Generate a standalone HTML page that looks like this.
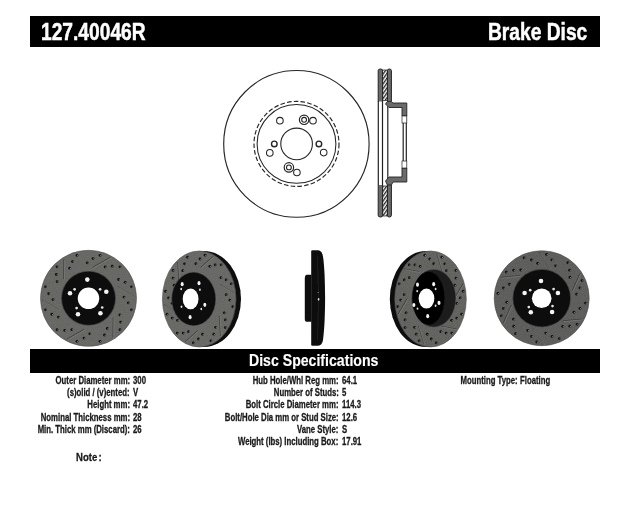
<!DOCTYPE html>
<html><head><meta charset="utf-8"><style>
html,body{margin:0;padding:0;background:#fff;}
body{width:630px;height:516px;position:relative;overflow:hidden;font-family:"Liberation Sans",sans-serif;}
.bar{position:absolute;background:#000;}
.t{position:absolute;white-space:nowrap;font-weight:bold;transform-origin:0 0;line-height:1;}
.w{color:#fff;-webkit-text-stroke:0.5px #fff;}
.k{color:#1a1a1a;font-size:10px;-webkit-text-stroke:0.3px #1a1a1a;}
.r{text-align:right;}
</style></head><body>
<div class="bar" style="left:30px;top:16px;width:570px;height:31px"></div>
<div class="bar" style="left:30px;top:348.5px;width:570px;height:24.5px"></div>
<svg width="630" height="516" viewBox="0 0 630 516" style="position:absolute;left:0;top:0">
<defs>
<pattern id="hatch" patternUnits="userSpaceOnUse" width="4" height="2.8" patternTransform="rotate(-55)">
<rect width="4" height="2.8" fill="#fff"/><rect width="4" height="1.35" fill="#2a2a2a"/></pattern>
<filter id="noise" x="0" y="0" width="100%" height="100%"><feTurbulence type="fractalNoise" baseFrequency="0.9" numOctaves="2" seed="3"/><feColorMatrix type="matrix" values="0 0 0 0 0.3  0 0 0 0 0.3  0 0 0 0 0.3  0 0 0 -1.2 1"/></filter>
<filter id="soft" x="-5%" y="-5%" width="110%" height="110%"><feGaussianBlur stdDeviation="0.35"/></filter>
<pattern id="grain" patternUnits="userSpaceOnUse" width="100" height="100"><rect width="100" height="100" filter="url(#noise)"/></pattern>
</defs>
<ellipse cx="296.4" cy="143.9" rx="72.7" ry="73.4" stroke="#262626" fill="none" stroke-width="1.15"/><circle cx="296.5" cy="143.9" r="42.5" stroke="#262626" fill="none" stroke-width="1.15" stroke-dasharray="4.6 2.2"/><circle cx="296.5" cy="143.9" r="39.4" stroke="#262626" fill="none" stroke-width="1.05"/><circle cx="296.6" cy="143.9" r="15.8" stroke="#262626" fill="none" stroke-width="1.1"/><circle cx="279.9" cy="120.7" r="3.3" stroke="#262626" fill="none" stroke-width="1.05"/><circle cx="313" cy="120.7" r="3.3" stroke="#262626" fill="none" stroke-width="1.05"/><circle cx="269.8" cy="152.9" r="3.3" stroke="#262626" fill="none" stroke-width="1.05"/><circle cx="323.7" cy="152.6" r="3.3" stroke="#262626" fill="none" stroke-width="1.05"/><circle cx="296.9" cy="172.5" r="3.3" stroke="#262626" fill="none" stroke-width="1.05"/><circle cx="274.3" cy="143.9" r="2.8" stroke="#262626" fill="none" stroke-width="1.4"/><circle cx="318.9" cy="143.9" r="2.8" stroke="#262626" fill="none" stroke-width="1.4"/><circle cx="304.1" cy="119.8" r="4.7" stroke="#262626" fill="none" stroke-width="1.2"/><circle cx="304.1" cy="119.8" r="2.4" stroke="#262626" fill="none" stroke-width="1.1"/><circle cx="288.9" cy="167.4" r="4.7" stroke="#262626" fill="none" stroke-width="1.2"/><circle cx="288.9" cy="167.4" r="2.4" stroke="#262626" fill="none" stroke-width="1.1"/>
<rect x="382.6" y="70" width="4.8" height="30.5" fill="url(#hatch)"/><rect x="382.6" y="70" width="4.8" height="30.5" fill="none" stroke="#222" stroke-width="0.7"/><path d="M378.2,101.5 L378.2,70.6 Q378.2,69 380.4,69 Q382.59999999999997,69 382.59999999999997,70.6 L382.59999999999997,101.5" fill="#6a6a6a" stroke="#222" stroke-width="1"/><path d="M387.4,101.5 L387.4,70.6 Q387.4,69 389.4,69 Q391.4,69 391.4,70.6 L391.4,101.5" fill="#6a6a6a" stroke="#222" stroke-width="1"/><rect x="382.6" y="186" width="4.8" height="30" fill="url(#hatch)"/><rect x="382.6" y="186" width="4.8" height="30" fill="none" stroke="#222" stroke-width="0.7"/><path d="M378.2,185 L378.2,215.4 Q378.2,217 380.4,217 Q382.59999999999997,217 382.59999999999997,215.4 L382.59999999999997,185" fill="#6a6a6a" stroke="#222" stroke-width="1"/><path d="M387.4,185 L387.4,215.4 Q387.4,217 389.4,217 Q391.4,217 391.4,215.4 L391.4,185" fill="#6a6a6a" stroke="#222" stroke-width="1"/><g stroke="#222" stroke-width="1.2"><line x1="378.3" y1="101" x2="378.3" y2="185"/><line x1="382.5" y1="101" x2="382.5" y2="185"/><line x1="387.8" y1="106" x2="387.8" y2="180"/><line x1="403.2" y1="116" x2="403.2" y2="162"/><line x1="406.3" y1="116" x2="406.3" y2="162"/></g><path d="M387.4,101.5 L391.4,101.5 L393,103 L406.8,103 L406.8,116 L402,116 L402,107.5 L389,107.5 L385.5,104 Z" fill="#6a6a6a" stroke="#222" stroke-width="0.9"/><path d="M387.4,185 L391.4,185 L393,182 L406.8,182 L406.8,168 L402,168 L402,177 L389,177 L385.5,181 Z" fill="#6a6a6a" stroke="#222" stroke-width="0.9"/><rect x="402" y="116" width="4.8" height="7" fill="#fff" stroke="#222" stroke-width="0.7"/><rect x="402" y="161" width="4.8" height="7" fill="#fff" stroke="#222" stroke-width="0.7"/>
<g filter="url(#soft)"><circle cx="88.5" cy="298.3" r="48" fill="#62625f" stroke="#50504e" stroke-width="0.6"/><circle cx="88.5" cy="298.3" r="47.4" fill="url(#grain)" opacity="0.3"/><g stroke="#333331" stroke-width="0.9" fill="none" opacity="0.85"><path d="M113.04,337.56 L113.24,317.63"/><path d="M113.74,338.26 L113.94,318.33" stroke="#8c8c8a" stroke-width="0.6"/><path d="M66.76,339.18 L84.13,329.39"/><path d="M67.46,339.88 L84.83,330.09" stroke="#8c8c8a" stroke-width="0.6"/><path d="M42.23,299.92 L59.39,310.06"/><path d="M42.93,300.62 L60.09,310.76" stroke="#8c8c8a" stroke-width="0.6"/><path d="M63.96,259.04 L63.76,278.97"/><path d="M64.66,259.74 L64.46,279.67" stroke="#8c8c8a" stroke-width="0.6"/><path d="M110.24,257.42 L92.87,267.21"/><path d="M110.94,258.12 L93.57,267.91" stroke="#8c8c8a" stroke-width="0.6"/><path d="M134.77,296.68 L117.61,286.54"/><path d="M135.47,297.38 L118.31,287.24" stroke="#8c8c8a" stroke-width="0.6"/></g><g fill="#121212"><circle cx="131.48" cy="309.82" r="1.4"/><circle cx="132.18" cy="310.02" r="0.55" fill="#8a8a88"/><circle cx="128.24" cy="302.83" r="1.4"/><circle cx="128.94" cy="303.03" r="0.55" fill="#8a8a88"/><circle cx="123.98" cy="297.06" r="1.4"/><circle cx="124.68" cy="297.26" r="0.55" fill="#8a8a88"/><circle cx="119.97" cy="329.77" r="1.4"/><circle cx="120.67" cy="329.97" r="0.55" fill="#8a8a88"/><circle cx="120.65" cy="322.09" r="1.4"/><circle cx="121.35" cy="322.29" r="0.55" fill="#8a8a88"/><circle cx="119.84" cy="314.97" r="1.4"/><circle cx="120.54" cy="315.17" r="0.55" fill="#8a8a88"/><circle cx="100.02" cy="341.28" r="1.4"/><circle cx="100.72" cy="341.48" r="0.55" fill="#8a8a88"/><circle cx="104.45" cy="334.98" r="1.4"/><circle cx="105.15" cy="335.18" r="0.55" fill="#8a8a88"/><circle cx="107.31" cy="328.41" r="1.4"/><circle cx="108.01" cy="328.61" r="0.55" fill="#8a8a88"/><circle cx="76.98" cy="341.28" r="1.4"/><circle cx="77.68" cy="341.48" r="0.55" fill="#8a8a88"/><circle cx="83.97" cy="338.04" r="1.4"/><circle cx="84.67" cy="338.24" r="0.55" fill="#8a8a88"/><circle cx="89.74" cy="333.78" r="1.4"/><circle cx="90.44" cy="333.98" r="0.55" fill="#8a8a88"/><circle cx="57.03" cy="329.77" r="1.4"/><circle cx="57.73" cy="329.97" r="0.55" fill="#8a8a88"/><circle cx="64.71" cy="330.45" r="1.4"/><circle cx="65.41" cy="330.65" r="0.55" fill="#8a8a88"/><circle cx="71.83" cy="329.64" r="1.4"/><circle cx="72.53" cy="329.84" r="0.55" fill="#8a8a88"/><circle cx="45.52" cy="309.82" r="1.4"/><circle cx="46.22" cy="310.02" r="0.55" fill="#8a8a88"/><circle cx="51.82" cy="314.25" r="1.4"/><circle cx="52.52" cy="314.45" r="0.55" fill="#8a8a88"/><circle cx="58.39" cy="317.11" r="1.4"/><circle cx="59.09" cy="317.31" r="0.55" fill="#8a8a88"/><circle cx="45.52" cy="286.78" r="1.4"/><circle cx="46.22" cy="286.98" r="0.55" fill="#8a8a88"/><circle cx="48.76" cy="293.77" r="1.4"/><circle cx="49.46" cy="293.97" r="0.55" fill="#8a8a88"/><circle cx="53.02" cy="299.54" r="1.4"/><circle cx="53.72" cy="299.74" r="0.55" fill="#8a8a88"/><circle cx="57.03" cy="266.83" r="1.4"/><circle cx="57.73" cy="267.03" r="0.55" fill="#8a8a88"/><circle cx="56.35" cy="274.51" r="1.4"/><circle cx="57.05" cy="274.71" r="0.55" fill="#8a8a88"/><circle cx="57.16" cy="281.63" r="1.4"/><circle cx="57.86" cy="281.83" r="0.55" fill="#8a8a88"/><circle cx="76.98" cy="255.32" r="1.4"/><circle cx="77.68" cy="255.52" r="0.55" fill="#8a8a88"/><circle cx="72.55" cy="261.62" r="1.4"/><circle cx="73.25" cy="261.82" r="0.55" fill="#8a8a88"/><circle cx="69.69" cy="268.19" r="1.4"/><circle cx="70.39" cy="268.39" r="0.55" fill="#8a8a88"/><circle cx="100.02" cy="255.32" r="1.4"/><circle cx="100.72" cy="255.52" r="0.55" fill="#8a8a88"/><circle cx="93.03" cy="258.56" r="1.4"/><circle cx="93.73" cy="258.76" r="0.55" fill="#8a8a88"/><circle cx="87.26" cy="262.82" r="1.4"/><circle cx="87.96" cy="263.02" r="0.55" fill="#8a8a88"/><circle cx="119.97" cy="266.83" r="1.4"/><circle cx="120.67" cy="267.03" r="0.55" fill="#8a8a88"/><circle cx="112.29" cy="266.15" r="1.4"/><circle cx="112.99" cy="266.35" r="0.55" fill="#8a8a88"/><circle cx="105.17" cy="266.96" r="1.4"/><circle cx="105.87" cy="267.16" r="0.55" fill="#8a8a88"/><circle cx="131.48" cy="286.78" r="1.4"/><circle cx="132.18" cy="286.98" r="0.55" fill="#8a8a88"/><circle cx="125.18" cy="282.35" r="1.4"/><circle cx="125.88" cy="282.55" r="0.55" fill="#8a8a88"/><circle cx="118.61" cy="279.49" r="1.4"/><circle cx="119.31" cy="279.69" r="0.55" fill="#8a8a88"/></g><circle cx="88.5" cy="298.3" r="27.3" fill="#3a3a3a"/><circle cx="88.5" cy="298.3" r="26.5" fill="#0a0a0a"/><circle cx="88.5" cy="298.3" r="10.75" fill="#fff"/><circle cx="87.3" cy="279.6" r="2.3" fill="#f4f4f4"/><circle cx="106.3" cy="291.8" r="2.3" fill="#f4f4f4"/><circle cx="100.4" cy="313.3" r="2.3" fill="#f4f4f4"/><circle cx="78" cy="314.3" r="2.3" fill="#f4f4f4"/><circle cx="70" cy="293.3" r="2.3" fill="#f4f4f4"/><circle cx="74.6" cy="289.3" r="1.35" fill="#e4e4e4"/><circle cx="100.1" cy="289.3" r="1.35" fill="#e4e4e4"/><circle cx="102.2" cy="307.5" r="1.35" fill="#e4e4e4"/><circle cx="76.6" cy="308.1" r="1.35" fill="#e4e4e4"/><ellipse cx="204.2" cy="299" rx="36.8" ry="48" fill="#0e0e0e"/><ellipse cx="199.2" cy="299" rx="36.8" ry="48" fill="#636360" stroke="#50504e" stroke-width="0.6"/><ellipse cx="199.2" cy="299" rx="36.199999999999996" ry="47.4" fill="url(#grain)" opacity="0.3"/><g stroke="#333331" stroke-width="0.9" fill="none" opacity="0.85"><path d="M220.56,335.98 L219.39,316.10"/><path d="M221.26,336.68 L220.09,316.80" stroke="#8c8c8a" stroke-width="0.6"/><path d="M185.33,341.62 L197.94,330.36"/><path d="M186.03,342.32 L198.64,331.06" stroke="#8c8c8a" stroke-width="0.6"/><path d="M163.97,304.64 L177.75,313.26"/><path d="M164.67,305.34 L178.45,313.96" stroke="#8c8c8a" stroke-width="0.6"/><path d="M177.84,262.02 L179.01,281.90"/><path d="M178.54,262.72 L179.71,282.60" stroke="#8c8c8a" stroke-width="0.6"/><path d="M213.07,256.38 L200.46,267.64"/><path d="M213.77,257.08 L201.16,268.34" stroke="#8c8c8a" stroke-width="0.6"/><path d="M234.43,293.36 L220.65,284.74"/><path d="M235.13,294.06 L221.35,285.44" stroke="#8c8c8a" stroke-width="0.6"/></g><g fill="#121212"><circle cx="232.80" cy="306.73" r="1.4"/><circle cx="233.50" cy="306.93" r="0.55" fill="#8a8a88"/><circle cx="229.86" cy="300.05" r="1.4"/><circle cx="230.56" cy="300.25" r="0.55" fill="#8a8a88"/><circle cx="226.21" cy="294.67" r="1.4"/><circle cx="226.91" cy="294.87" r="0.55" fill="#8a8a88"/><circle cx="225.33" cy="327.60" r="1.4"/><circle cx="226.03" cy="327.80" r="0.55" fill="#8a8a88"/><circle cx="225.35" cy="319.90" r="1.4"/><circle cx="226.05" cy="320.10" r="0.55" fill="#8a8a88"/><circle cx="224.25" cy="312.87" r="1.4"/><circle cx="224.95" cy="313.07" r="0.55" fill="#8a8a88"/><circle cx="210.87" cy="340.82" r="1.4"/><circle cx="211.57" cy="341.02" r="0.55" fill="#8a8a88"/><circle cx="213.83" cy="334.15" r="1.4"/><circle cx="214.53" cy="334.35" r="0.55" fill="#8a8a88"/><circle cx="215.58" cy="327.35" r="1.4"/><circle cx="216.28" cy="327.55" r="0.55" fill="#8a8a88"/><circle cx="193.28" cy="342.82" r="1.4"/><circle cx="193.98" cy="343.02" r="0.55" fill="#8a8a88"/><circle cx="198.40" cy="338.99" r="1.4"/><circle cx="199.10" cy="339.19" r="0.55" fill="#8a8a88"/><circle cx="202.52" cy="334.24" r="1.4"/><circle cx="203.22" cy="334.44" r="0.55" fill="#8a8a88"/><circle cx="177.27" cy="333.09" r="1.4"/><circle cx="177.97" cy="333.29" r="0.55" fill="#8a8a88"/><circle cx="183.18" cy="333.11" r="1.4"/><circle cx="183.88" cy="333.31" r="0.55" fill="#8a8a88"/><circle cx="188.57" cy="331.68" r="1.4"/><circle cx="189.27" cy="331.88" r="0.55" fill="#8a8a88"/><circle cx="167.14" cy="314.22" r="1.4"/><circle cx="167.84" cy="314.42" r="0.55" fill="#8a8a88"/><circle cx="172.25" cy="318.09" r="1.4"/><circle cx="172.95" cy="318.29" r="0.55" fill="#8a8a88"/><circle cx="177.46" cy="320.36" r="1.4"/><circle cx="178.16" cy="320.56" r="0.55" fill="#8a8a88"/><circle cx="165.60" cy="291.27" r="1.4"/><circle cx="166.30" cy="291.47" r="0.55" fill="#8a8a88"/><circle cx="168.54" cy="297.95" r="1.4"/><circle cx="169.24" cy="298.15" r="0.55" fill="#8a8a88"/><circle cx="172.19" cy="303.33" r="1.4"/><circle cx="172.89" cy="303.53" r="0.55" fill="#8a8a88"/><circle cx="173.07" cy="270.40" r="1.4"/><circle cx="173.77" cy="270.60" r="0.55" fill="#8a8a88"/><circle cx="173.05" cy="278.10" r="1.4"/><circle cx="173.75" cy="278.30" r="0.55" fill="#8a8a88"/><circle cx="174.15" cy="285.13" r="1.4"/><circle cx="174.85" cy="285.33" r="0.55" fill="#8a8a88"/><circle cx="187.53" cy="257.18" r="1.4"/><circle cx="188.23" cy="257.38" r="0.55" fill="#8a8a88"/><circle cx="184.57" cy="263.85" r="1.4"/><circle cx="185.27" cy="264.05" r="0.55" fill="#8a8a88"/><circle cx="182.82" cy="270.65" r="1.4"/><circle cx="183.52" cy="270.85" r="0.55" fill="#8a8a88"/><circle cx="205.12" cy="255.18" r="1.4"/><circle cx="205.82" cy="255.38" r="0.55" fill="#8a8a88"/><circle cx="200.00" cy="259.01" r="1.4"/><circle cx="200.70" cy="259.21" r="0.55" fill="#8a8a88"/><circle cx="195.88" cy="263.76" r="1.4"/><circle cx="196.58" cy="263.96" r="0.55" fill="#8a8a88"/><circle cx="221.13" cy="264.91" r="1.4"/><circle cx="221.83" cy="265.11" r="0.55" fill="#8a8a88"/><circle cx="215.22" cy="264.89" r="1.4"/><circle cx="215.92" cy="265.09" r="0.55" fill="#8a8a88"/><circle cx="209.83" cy="266.32" r="1.4"/><circle cx="210.53" cy="266.52" r="0.55" fill="#8a8a88"/><circle cx="231.26" cy="283.78" r="1.4"/><circle cx="231.96" cy="283.98" r="0.55" fill="#8a8a88"/><circle cx="226.15" cy="279.91" r="1.4"/><circle cx="226.85" cy="280.11" r="0.55" fill="#8a8a88"/><circle cx="220.94" cy="277.64" r="1.4"/><circle cx="221.64" cy="277.84" r="0.55" fill="#8a8a88"/></g><ellipse cx="193.7" cy="299" rx="22.2" ry="26.9" fill="#3a3a3a"/><ellipse cx="193.7" cy="299" rx="21.5" ry="26.2" fill="#0a0a0a"/><ellipse cx="190.6" cy="298.9" rx="7.9" ry="10.4" fill="#fff"/><ellipse cx="199" cy="283.2" rx="1.5" ry="2.1" fill="#f4f4f4"/><ellipse cx="204.8" cy="304.8" rx="1.5" ry="2.1" fill="#f4f4f4"/><ellipse cx="190.1" cy="317.2" rx="1.5" ry="2.1" fill="#f4f4f4"/><ellipse cx="182.2" cy="284.2" rx="1.5" ry="2.1" fill="#f4f4f4"/><ellipse cx="181.2" cy="289" rx="0.9" ry="1.2" fill="#e0e0e0"/><ellipse cx="199.9" cy="289.7" rx="0.9" ry="1.2" fill="#e0e0e0"/><ellipse cx="201.3" cy="309" rx="0.9" ry="1.2" fill="#e0e0e0"/><ellipse cx="181.5" cy="306.8" rx="0.9" ry="1.2" fill="#e0e0e0"/><path d="M311.2,251 Q311.3,250.3 312.5,250.3 L318,250.3 Q322.2,250.8 323,256.5 C325.8,275 325.8,321 323,340 Q322.2,345.6 318,345.8 L312.5,345.8 Q311.3,345.8 311.2,345 Z" fill="#0b0b0b"/><path d="M311.5,274.7 L306.5,274.7 Q304.8,275 304.8,278 L304.8,318.5 Q304.8,321.7 306.5,321.7 L311.5,321.7 Z" fill="#0d0d0d"/><path d="M317.3,256 Q319.5,298 317.3,340" stroke="#1e1e1e" stroke-width="1.2" fill="none"/><ellipse cx="318.6" cy="299.3" rx="0.8" ry="1.4" fill="#ddd"/><circle cx="318.2" cy="292.5" r="0.6" fill="#999"/><ellipse cx="425.6" cy="299" rx="35.8" ry="48" fill="#0e0e0e"/><ellipse cx="430.5" cy="299" rx="35.8" ry="48" fill="#5d5d5a" stroke="#50504e" stroke-width="0.6"/><ellipse cx="430.5" cy="299" rx="35.199999999999996" ry="47.4" fill="url(#grain)" opacity="0.3"/><g stroke="#333331" stroke-width="0.9" fill="none" opacity="0.85"><path d="M456.72,329.13 L442.00,326.36"/><path d="M457.42,329.83 L442.70,327.06" stroke="#8c8c8a" stroke-width="0.6"/><path d="M424.15,344.51 L418.58,326.03"/><path d="M424.85,345.21 L419.28,326.73" stroke="#8c8c8a" stroke-width="0.6"/><path d="M397.93,314.38 L407.08,298.67"/><path d="M398.63,315.08 L407.78,299.37" stroke="#8c8c8a" stroke-width="0.6"/><path d="M404.28,268.87 L419.00,271.64"/><path d="M404.98,269.57 L419.70,272.34" stroke="#8c8c8a" stroke-width="0.6"/><path d="M436.85,253.49 L442.42,271.97"/><path d="M437.55,254.19 L443.12,272.67" stroke="#8c8c8a" stroke-width="0.6"/><path d="M463.07,283.62 L453.92,299.33"/><path d="M463.77,284.32 L454.62,300.03" stroke="#8c8c8a" stroke-width="0.6"/></g><g fill="#121212"><circle cx="461.69" cy="314.22" r="1.4"/><circle cx="462.39" cy="314.42" r="0.55" fill="#8a8a88"/><circle cx="456.72" cy="318.09" r="1.4"/><circle cx="457.42" cy="318.29" r="0.55" fill="#8a8a88"/><circle cx="451.65" cy="320.36" r="1.4"/><circle cx="452.35" cy="320.56" r="0.55" fill="#8a8a88"/><circle cx="451.83" cy="333.09" r="1.4"/><circle cx="452.53" cy="333.29" r="0.55" fill="#8a8a88"/><circle cx="446.09" cy="333.11" r="1.4"/><circle cx="446.79" cy="333.31" r="0.55" fill="#8a8a88"/><circle cx="440.85" cy="331.68" r="1.4"/><circle cx="441.55" cy="331.88" r="0.55" fill="#8a8a88"/><circle cx="436.26" cy="342.82" r="1.4"/><circle cx="436.96" cy="343.02" r="0.55" fill="#8a8a88"/><circle cx="431.28" cy="338.99" r="1.4"/><circle cx="431.98" cy="339.19" r="0.55" fill="#8a8a88"/><circle cx="427.27" cy="334.24" r="1.4"/><circle cx="427.97" cy="334.44" r="0.55" fill="#8a8a88"/><circle cx="419.15" cy="340.82" r="1.4"/><circle cx="419.85" cy="341.02" r="0.55" fill="#8a8a88"/><circle cx="416.26" cy="334.15" r="1.4"/><circle cx="416.96" cy="334.35" r="0.55" fill="#8a8a88"/><circle cx="414.57" cy="327.35" r="1.4"/><circle cx="415.27" cy="327.55" r="0.55" fill="#8a8a88"/><circle cx="405.08" cy="327.60" r="1.4"/><circle cx="405.78" cy="327.80" r="0.55" fill="#8a8a88"/><circle cx="405.06" cy="319.90" r="1.4"/><circle cx="405.76" cy="320.10" r="0.55" fill="#8a8a88"/><circle cx="406.13" cy="312.87" r="1.4"/><circle cx="406.83" cy="313.07" r="0.55" fill="#8a8a88"/><circle cx="397.81" cy="306.73" r="1.4"/><circle cx="398.51" cy="306.93" r="0.55" fill="#8a8a88"/><circle cx="400.68" cy="300.05" r="1.4"/><circle cx="401.38" cy="300.25" r="0.55" fill="#8a8a88"/><circle cx="404.22" cy="294.67" r="1.4"/><circle cx="404.92" cy="294.87" r="0.55" fill="#8a8a88"/><circle cx="399.31" cy="283.78" r="1.4"/><circle cx="400.01" cy="283.98" r="0.55" fill="#8a8a88"/><circle cx="404.28" cy="279.91" r="1.4"/><circle cx="404.98" cy="280.11" r="0.55" fill="#8a8a88"/><circle cx="409.35" cy="277.64" r="1.4"/><circle cx="410.05" cy="277.84" r="0.55" fill="#8a8a88"/><circle cx="409.17" cy="264.91" r="1.4"/><circle cx="409.87" cy="265.11" r="0.55" fill="#8a8a88"/><circle cx="414.91" cy="264.89" r="1.4"/><circle cx="415.61" cy="265.09" r="0.55" fill="#8a8a88"/><circle cx="420.15" cy="266.32" r="1.4"/><circle cx="420.85" cy="266.52" r="0.55" fill="#8a8a88"/><circle cx="424.74" cy="255.18" r="1.4"/><circle cx="425.44" cy="255.38" r="0.55" fill="#8a8a88"/><circle cx="429.72" cy="259.01" r="1.4"/><circle cx="430.42" cy="259.21" r="0.55" fill="#8a8a88"/><circle cx="433.73" cy="263.76" r="1.4"/><circle cx="434.43" cy="263.96" r="0.55" fill="#8a8a88"/><circle cx="441.85" cy="257.18" r="1.4"/><circle cx="442.55" cy="257.38" r="0.55" fill="#8a8a88"/><circle cx="444.74" cy="263.85" r="1.4"/><circle cx="445.44" cy="264.05" r="0.55" fill="#8a8a88"/><circle cx="446.43" cy="270.65" r="1.4"/><circle cx="447.13" cy="270.85" r="0.55" fill="#8a8a88"/><circle cx="455.92" cy="270.40" r="1.4"/><circle cx="456.62" cy="270.60" r="0.55" fill="#8a8a88"/><circle cx="455.94" cy="278.10" r="1.4"/><circle cx="456.64" cy="278.30" r="0.55" fill="#8a8a88"/><circle cx="454.87" cy="285.13" r="1.4"/><circle cx="455.57" cy="285.33" r="0.55" fill="#8a8a88"/><circle cx="463.19" cy="291.27" r="1.4"/><circle cx="463.89" cy="291.47" r="0.55" fill="#8a8a88"/><circle cx="460.32" cy="297.95" r="1.4"/><circle cx="461.02" cy="298.15" r="0.55" fill="#8a8a88"/><circle cx="456.78" cy="303.33" r="1.4"/><circle cx="457.48" cy="303.53" r="0.55" fill="#8a8a88"/></g><ellipse cx="433.7" cy="298.2" rx="22.2" ry="29.0" fill="#3a3a3a"/><ellipse cx="433.7" cy="298.2" rx="21.5" ry="28.3" fill="#1a1a1a"/><ellipse cx="428.5" cy="298.2" rx="16" ry="26.5" fill="#030303"/><ellipse cx="426.5" cy="298.6" rx="7.85" ry="10" fill="#fff"/><ellipse cx="417.5" cy="284.7" rx="1.5" ry="2.1" fill="#f4f4f4"/><ellipse cx="433.7" cy="284.2" rx="1.5" ry="2.1" fill="#f4f4f4"/><ellipse cx="439" cy="302.9" rx="1.5" ry="2.1" fill="#f4f4f4"/><ellipse cx="427.7" cy="316.2" rx="1.5" ry="2.1" fill="#f4f4f4"/><ellipse cx="413.9" cy="305" rx="1.5" ry="2.1" fill="#f4f4f4"/><ellipse cx="417.2" cy="291.1" rx="0.9" ry="1.2" fill="#e0e0e0"/><ellipse cx="435.6" cy="289" rx="0.9" ry="1.2" fill="#e0e0e0"/><ellipse cx="435.6" cy="305.8" rx="0.9" ry="1.2" fill="#e0e0e0"/><ellipse cx="417.5" cy="308.6" rx="0.9" ry="1.2" fill="#e0e0e0"/><circle cx="541.7" cy="298.2" r="47.5" fill="#575755" stroke="#50504e" stroke-width="0.6"/><circle cx="541.7" cy="298.2" r="46.9" fill="url(#grain)" opacity="0.3"/><g stroke="#333331" stroke-width="0.9" fill="none" opacity="0.85"><path d="M582.52,319.00 L562.89,320.93"/><path d="M583.22,319.70 L563.59,321.63" stroke="#8c8c8a" stroke-width="0.6"/><path d="M544.10,343.95 L532.62,327.92"/><path d="M544.80,344.65 L533.32,328.62" stroke="#8c8c8a" stroke-width="0.6"/><path d="M503.27,323.15 L511.42,305.19"/><path d="M503.97,323.85 L512.12,305.89" stroke="#8c8c8a" stroke-width="0.6"/><path d="M500.88,277.40 L520.51,275.47"/><path d="M501.58,278.10 L521.21,276.17" stroke="#8c8c8a" stroke-width="0.6"/><path d="M539.30,252.45 L550.78,268.48"/><path d="M540.00,253.15 L551.48,269.18" stroke="#8c8c8a" stroke-width="0.6"/><path d="M580.13,273.25 L571.98,291.21"/><path d="M580.83,273.95 L572.68,291.91" stroke="#8c8c8a" stroke-width="0.6"/></g><g fill="#121212"><circle cx="585.46" cy="303.11" r="1.4"/><circle cx="586.16" cy="303.31" r="0.55" fill="#8a8a88"/><circle cx="579.95" cy="308.38" r="1.4"/><circle cx="580.65" cy="308.58" r="0.55" fill="#8a8a88"/><circle cx="573.94" cy="312.15" r="1.4"/><circle cx="574.64" cy="312.35" r="0.55" fill="#8a8a88"/><circle cx="577.14" cy="324.33" r="1.4"/><circle cx="577.84" cy="324.53" r="0.55" fill="#8a8a88"/><circle cx="569.74" cy="326.14" r="1.4"/><circle cx="570.44" cy="326.34" r="0.55" fill="#8a8a88"/><circle cx="562.65" cy="326.40" r="1.4"/><circle cx="563.35" cy="326.60" r="0.55" fill="#8a8a88"/><circle cx="559.33" cy="338.55" r="1.4"/><circle cx="560.03" cy="338.75" r="0.55" fill="#8a8a88"/><circle cx="552.01" cy="336.42" r="1.4"/><circle cx="552.71" cy="336.62" r="0.55" fill="#8a8a88"/><circle cx="545.74" cy="333.10" r="1.4"/><circle cx="546.44" cy="333.30" r="0.55" fill="#8a8a88"/><circle cx="536.79" cy="341.96" r="1.4"/><circle cx="537.49" cy="342.16" r="0.55" fill="#8a8a88"/><circle cx="531.52" cy="336.45" r="1.4"/><circle cx="532.22" cy="336.65" r="0.55" fill="#8a8a88"/><circle cx="527.75" cy="330.44" r="1.4"/><circle cx="528.45" cy="330.64" r="0.55" fill="#8a8a88"/><circle cx="515.57" cy="333.64" r="1.4"/><circle cx="516.27" cy="333.84" r="0.55" fill="#8a8a88"/><circle cx="513.76" cy="326.24" r="1.4"/><circle cx="514.46" cy="326.44" r="0.55" fill="#8a8a88"/><circle cx="513.50" cy="319.15" r="1.4"/><circle cx="514.20" cy="319.35" r="0.55" fill="#8a8a88"/><circle cx="501.35" cy="315.83" r="1.4"/><circle cx="502.05" cy="316.03" r="0.55" fill="#8a8a88"/><circle cx="503.48" cy="308.51" r="1.4"/><circle cx="504.18" cy="308.71" r="0.55" fill="#8a8a88"/><circle cx="506.80" cy="302.24" r="1.4"/><circle cx="507.50" cy="302.44" r="0.55" fill="#8a8a88"/><circle cx="497.94" cy="293.29" r="1.4"/><circle cx="498.64" cy="293.49" r="0.55" fill="#8a8a88"/><circle cx="503.45" cy="288.02" r="1.4"/><circle cx="504.15" cy="288.22" r="0.55" fill="#8a8a88"/><circle cx="509.46" cy="284.25" r="1.4"/><circle cx="510.16" cy="284.45" r="0.55" fill="#8a8a88"/><circle cx="506.26" cy="272.07" r="1.4"/><circle cx="506.96" cy="272.27" r="0.55" fill="#8a8a88"/><circle cx="513.66" cy="270.26" r="1.4"/><circle cx="514.36" cy="270.46" r="0.55" fill="#8a8a88"/><circle cx="520.75" cy="270.00" r="1.4"/><circle cx="521.45" cy="270.20" r="0.55" fill="#8a8a88"/><circle cx="524.07" cy="257.85" r="1.4"/><circle cx="524.77" cy="258.05" r="0.55" fill="#8a8a88"/><circle cx="531.39" cy="259.98" r="1.4"/><circle cx="532.09" cy="260.18" r="0.55" fill="#8a8a88"/><circle cx="537.66" cy="263.30" r="1.4"/><circle cx="538.36" cy="263.50" r="0.55" fill="#8a8a88"/><circle cx="546.61" cy="254.44" r="1.4"/><circle cx="547.31" cy="254.64" r="0.55" fill="#8a8a88"/><circle cx="551.88" cy="259.95" r="1.4"/><circle cx="552.58" cy="260.15" r="0.55" fill="#8a8a88"/><circle cx="555.65" cy="265.96" r="1.4"/><circle cx="556.35" cy="266.16" r="0.55" fill="#8a8a88"/><circle cx="567.83" cy="262.76" r="1.4"/><circle cx="568.53" cy="262.96" r="0.55" fill="#8a8a88"/><circle cx="569.64" cy="270.16" r="1.4"/><circle cx="570.34" cy="270.36" r="0.55" fill="#8a8a88"/><circle cx="569.90" cy="277.25" r="1.4"/><circle cx="570.60" cy="277.45" r="0.55" fill="#8a8a88"/><circle cx="582.05" cy="280.57" r="1.4"/><circle cx="582.75" cy="280.77" r="0.55" fill="#8a8a88"/><circle cx="579.92" cy="287.89" r="1.4"/><circle cx="580.62" cy="288.09" r="0.55" fill="#8a8a88"/><circle cx="576.60" cy="294.16" r="1.4"/><circle cx="577.30" cy="294.36" r="0.55" fill="#8a8a88"/></g><circle cx="541.7" cy="298.2" r="29.1" fill="#3a3a3a"/><circle cx="541.7" cy="298.2" r="28.3" fill="#0a0a0a"/><circle cx="541.7" cy="298.2" r="9.8" fill="#fff"/><circle cx="541" cy="281" r="2.3" fill="#f4f4f4"/><circle cx="557.9" cy="293" r="2.3" fill="#f4f4f4"/><circle cx="552.1" cy="312" r="2.3" fill="#f4f4f4"/><circle cx="530.8" cy="312.3" r="2.3" fill="#f4f4f4"/><circle cx="524.6" cy="293" r="2.3" fill="#f4f4f4"/><circle cx="530.2" cy="290.2" r="1.35" fill="#e4e4e4"/><circle cx="553.6" cy="289.1" r="1.35" fill="#e4e4e4"/><circle cx="552.5" cy="306.1" r="1.35" fill="#e4e4e4"/><circle cx="528.8" cy="307.1" r="1.35" fill="#e4e4e4"/></g>
</svg>
<div class="t w" style="left:40.5px;top:19.7px;font-size:24px;transform:scaleX(0.8)">127.40046R</div>
<div class="t w" style="left:488px;top:20px;font-size:24px;transform:scaleX(0.8)">Brake Disc</div>
<div class="t w" style="left:249px;top:352px;font-size:17px;transform:scaleX(0.83);-webkit-text-stroke:0.15px #fff">Disc Specifications</div>
<div class="t k" style="right:500px;top:375.8px;transform-origin:100% 0;transform:scaleX(0.776)">Outer Diameter mm:</div>
<div class="t k" style="left:133px;top:375.8px;transform:scaleX(0.776)">300</div>
<div class="t k" style="right:500px;top:388.1px;transform-origin:100% 0;transform:scaleX(0.776)">(s)olid / (v)ented:</div>
<div class="t k" style="left:133px;top:388.1px;transform:scaleX(0.776)">V</div>
<div class="t k" style="right:500px;top:400.4px;transform-origin:100% 0;transform:scaleX(0.776)">Height mm:</div>
<div class="t k" style="left:133px;top:400.4px;transform:scaleX(0.776)">47.2</div>
<div class="t k" style="right:500px;top:412.7px;transform-origin:100% 0;transform:scaleX(0.776)">Nominal Thickness mm:</div>
<div class="t k" style="left:133px;top:412.7px;transform:scaleX(0.776)">28</div>
<div class="t k" style="right:500px;top:425.0px;transform-origin:100% 0;transform:scaleX(0.776)">Min. Thick mm (Discard):</div>
<div class="t k" style="left:133px;top:425.0px;transform:scaleX(0.776)">26</div>
<div class="t k" style="right:291.5px;top:375.8px;transform-origin:100% 0;transform:scaleX(0.776)">Hub Hole/Whl Reg mm:</div>
<div class="t k" style="left:342px;top:375.8px;transform:scaleX(0.776)">64.1</div>
<div class="t k" style="right:291.5px;top:388.1px;transform-origin:100% 0;transform:scaleX(0.776)">Number of Studs:</div>
<div class="t k" style="left:342px;top:388.1px;transform:scaleX(0.776)">5</div>
<div class="t k" style="right:291.5px;top:400.4px;transform-origin:100% 0;transform:scaleX(0.776)">Bolt Circle Diameter mm:</div>
<div class="t k" style="left:342px;top:400.4px;transform:scaleX(0.776)">114.3</div>
<div class="t k" style="right:291.5px;top:412.7px;transform-origin:100% 0;transform:scaleX(0.776)">Bolt/Hole Dia mm or Stud Size:</div>
<div class="t k" style="left:342px;top:412.7px;transform:scaleX(0.776)">12.6</div>
<div class="t k" style="right:291.5px;top:425.0px;transform-origin:100% 0;transform:scaleX(0.776)">Vane Style:</div>
<div class="t k" style="left:342px;top:425.0px;transform:scaleX(0.776)">S</div>
<div class="t k" style="right:291.5px;top:437.3px;transform-origin:100% 0;transform:scaleX(0.776)">Weight (lbs) Including Box:</div>
<div class="t k" style="left:342px;top:437.3px;transform:scaleX(0.776)">17.91</div>
<div class="t k" style="right:112.60000000000002px;top:375.8px;transform-origin:100% 0;transform:scaleX(0.776)">Mounting Type:</div>
<div class="t k" style="left:519.6px;top:375.8px;transform:scaleX(0.776)">Floating</div>
<div class="t k" style="left:76px;top:451.8px;font-size:11.5px;transform:scaleX(0.83)">Note<span style="margin-left:1.5px">:</span></div>
</body></html>
